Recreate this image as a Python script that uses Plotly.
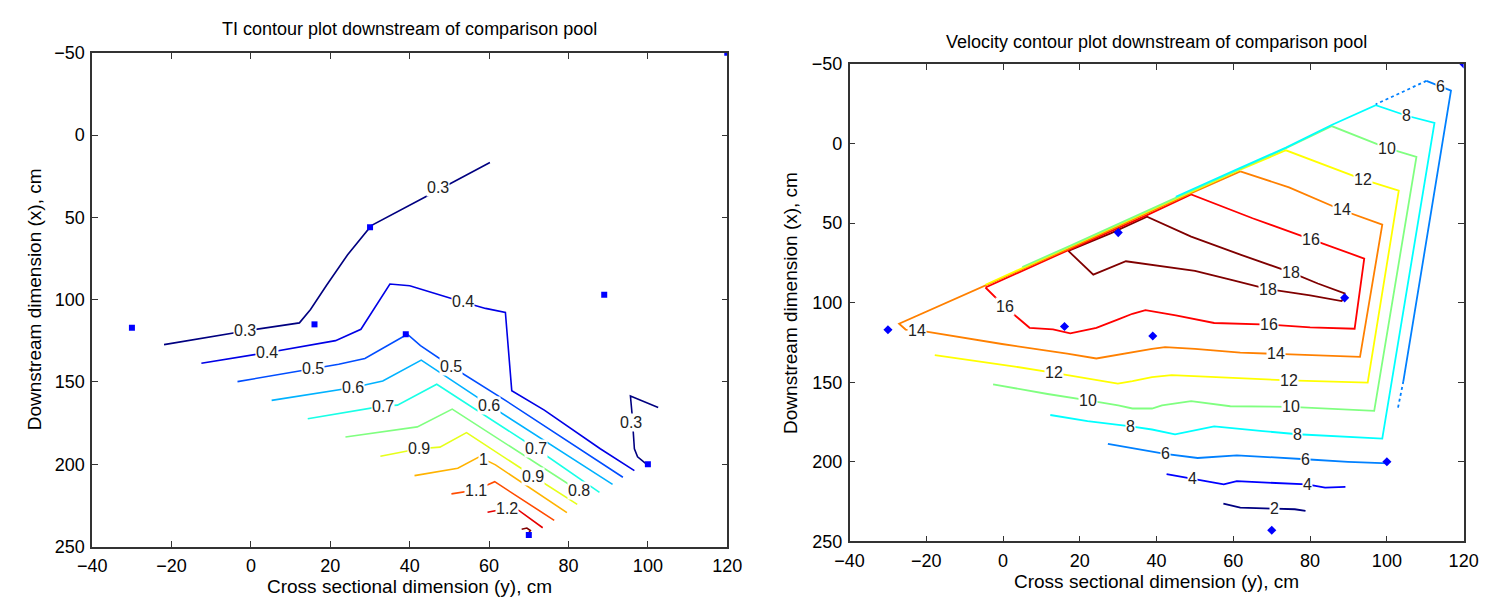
import plotly.graph_objects as go

# ---------------- data ----------------
# measurement points: (cross-sectional y, downstream x)
pts_cross = [-30, 16, 39, 89, 120, 100, 70, 30]
pts_down = [117, 115, 121, 97, -50, 200, 243, 56]

# TI contour lines, points as (cross y, downstream x)
ti_03a = [(-21.9, 127.3), (-1.4, 119), (12.2, 114.1), (15, 106), (19, 91.4), (24.3, 72.9),
          (30.3, 55), (36.3, 47.5), (44.6, 36.7), (60.2, 16.6)]
ti_03b = [(102.6, 165.5), (95.6, 158.6), (96, 169), (96.6, 190.6), (97.4, 195.5), (100.1, 200.8)]
ti_04 = [(-12.5, 138.6), (4, 132.2), (21.3, 124.9), (27.7, 118), (35, 90.5), (40, 91.5),
         (53.4, 101.4), (59.1, 105.3), (64.1, 107.7), (65.7, 155.3), (73.9, 167.1), (88, 190.6), (96.6, 203.9)]
ti_05 = [(-3.4, 149.8), (15.5, 142), (22.1, 139.2), (28.7, 135.7), (39.4, 121), (42.7, 127.9),
         (50.5, 140.6), (64.1, 161.2), (93.7, 207.9)]
ti_06 = [(5.2, 161.2), (25.8, 153.4), (33.2, 149.4), (42.9, 136.7), (60, 164.1), (91.1, 212.2)]
ti_07 = [(14.3, 172.4), (33.2, 164.7), (36.9, 164.1), (46.8, 151.4), (71.9, 190.6), (87.8, 217.1)]
ti_08 = [(23.8, 183.4), (41.9, 177.3), (50.7, 166.5), (82.6, 216.1), (85.3, 219.5)]
ti_09 = [(32.6, 195.1), (42.3, 190.6), (47.6, 189.6), (54.3, 180.8), (71.1, 207.3), (82.2, 224.4)]
ti_10 = [(41.2, 206.9), (52.1, 202.4), (57.5, 195.5), (61.6, 200.4), (79.6, 229.4)]
ti_11 = [(50.5, 218), (56.7, 215.7), (61.4, 210.6), (76.4, 234.1)]
ti_12 = [(59.6, 229.2), (64.5, 226.9), (67.4, 227.9), (73.5, 238.6)]
ti_13 = [(68.2, 239.5), (69.5, 238.8), (70.4, 240.3), (69.9, 242)]
ti_lines = [(0.3, ti_03a), (0.3, ti_03b), (0.4, ti_04), (0.5, ti_05), (0.6, ti_06), (0.7, ti_07),
            (0.8, ti_08), (0.9, ti_09), (1.0, ti_10), (1.1, ti_11), (1.2, ti_12), (1.3, ti_13)]

ti_lab_text = ["0.3", "0.3", "0.3", "0.4", "0.4", "0.5", "0.5", "0.6", "0.6", "0.7", "0.7",
               "0.8", "0.9", "0.9", "1", "1.1", "1.2"]
ti_lab_cross = [-1.4, 47, 95.8, 4, 53.4, 15.5, 50.5, 25.8, 60, 33.2, 71.9, 82.6, 42.3, 71.1, 58.6, 56.7, 64.5]
ti_lab_down = [119, 31.8, 174.9, 132.2, 101.4, 142, 140.6, 153.4, 164.1, 164.7, 190.6,
               216.1, 190.6, 207.3, 197, 215.7, 226.9]

# Velocity contour lines
v18 = [(17, 67.5), (23.5, 82.4), (32, 74), (39, 76.3), (50, 80), (60, 86), (69, 91.5), (80, 95.5),
       (88.2, 99), (89, 96), (89, 94.2), (82, 88), (75, 81), (62, 70), (49, 58.5), (37.5, 46),
       (28, 56.5), (17, 67.5)]
v16 = [(-4.6, 90.5), (0.5, 102.7), (6.9, 115.8), (13, 116.8), (17.5, 119.3), (24.3, 115.8),
       (30, 110.5), (33.7, 107), (37.1, 104.7), (45, 108), (55, 112.8), (69.4, 113.8), (80, 115.5),
       (91.6, 116.4), (94.1, 72.3), (80.1, 60.1), (65, 47), (49, 32), (37.5, 45), (17, 67), (-4.6, 90.5)]
v14 = [(61.8, 17.5), (74.5, 27.6), (88.2, 41.8), (98.8, 51), (93, 134.1), (71.1, 132.1),
       (61.8, 131.4), (50, 129), (42.2, 128), (38.8, 129), (33.7, 131), (24.3, 135.1), (16.7, 132),
       (-0.3, 126), (-20.8, 117.9), (-25.4, 116.9), (-27.1, 113.2), (17, 66.2), (49, 31.2), (61.8, 17.5)]
v12 = [(-17.8, 133), (3.1, 140.2), (13.3, 144.2), (20, 146.8), (29.9, 150.9), (33.7, 149.3),
       (38.8, 146.8), (43.9, 145.6), (59.2, 147.2), (74.5, 148.9), (95, 150.3), (103.1, 29.7),
       (93.7, 22.6), (73.7, 4.3), (61.8, 16.5), (49, 30.5), (17, 65.5), (-4.6, 88.8)]
v10 = [(-2.6, 151.3), (11.6, 157.4), (22.2, 161.4), (30, 164.5), (33.7, 166.5), (38.8, 166.5),
       (41.4, 164.5), (49, 161.9), (59.2, 165.1), (75, 165.5), (96.7, 168), (107.7, 8.4),
       (100.1, 2.9), (85.6, -10.9), (73.7, 3), (61.8, 15.8), (49, 29.8), (17, 64.8), (5, 77.6)]
v8 = [(12.3, 170.6), (22, 174.5), (33.3, 177.7), (38.8, 179.7), (44.8, 182.7), (55, 177.7),
      (67.7, 180.7), (76.7, 182.7), (98.8, 185.4), (112.4, -12.9), (105.2, -17.4), (97.1, -24.1),
      (85.6, -11.6), (73.7, 2.6), (61.8, 15.3), (45, 33.5)]
v6a = [(27.3, 188.8), (33.7, 191.5), (38.8, 193.9), (42.2, 195), (50.7, 197.6), (60.9, 195.9),
       (78.8, 198.4), (89.9, 200), (100.5, 201)]
v6b = [(104.3, 149.3), (116.7, -33.2), (110.3, -39.3)]
v6c = [(110.3, -39.3), (97.1, -24.6)]
v6d = [(104.3, 149.3), (102.8, 167.2)]
v4 = [(42.6, 207.7), (49.4, 210.5), (57.5, 214.2), (60.9, 212.2), (69.4, 213.2), (79.2, 214.2),
      (83.9, 216.2), (89.2, 215.8)]
v2 = [(57.4, 226.3), (61.8, 228.8), (70.6, 229.4), (76, 229.8), (78.8, 230.8)]
v_lines = [(18, v18, "solid"), (16, v16, "solid"), (14, v14, "solid"), (12, v12, "solid"),
           (10, v10, "solid"), (8, v8, "solid"), (6, v6a, "solid"), (6, v6b, "solid"),
           (6, v6c, "dot"), (6, v6d, "dot"), (4, v4, "solid"), (2, v2, "solid")]

v_lab_text = ["6", "8", "10", "12", "14", "16", "18", "18", "16", "14", "12", "10", "8", "6", "4", "2",
              "16", "14", "12", "10", "8", "6", "4"]
v_lab_cross = [114.1, 105.2, 100.1, 93.7, 88.2, 80.1, 75, 69, 69.4, 71.1, 74.5, 75, 76.7, 78.8, 79.2, 70.6,
               0.5, -22.5, 13.3, 22.2, 33.3, 42.2, 49.4]
v_lab_down = [-35.6, -17.4, 2.9, 22.6, 41.8, 60.1, 81, 92, 113.8, 132.1, 148.9, 165.5, 182.7, 198.4, 214.2,
              229.4, 102.7, 117.5, 144.2, 161.4, 177.7, 194.9, 210.5]


# ---------------- styling helpers ----------------
def jet(t):
    def c(v):
        return max(0.0, min(1.0, v))
    r = c(1.5 - abs(4 * t - 3))
    g = c(1.5 - abs(4 * t - 2))
    b = c(1.5 - abs(4 * t - 1))
    return "rgb(%d,%d,%d)" % (round(r * 255), round(g * 255), round(b * 255))


FONT = "Liberation Sans, Arial, sans-serif"

fig = go.Figure()

for lev, pts, in ti_lines:
    fig.add_trace(go.Scatter(x=[p[0] for p in pts], y=[p[1] for p in pts], mode="lines",
                             line=dict(color=jet((lev - 0.3) / 1.0), width=1.6),
                             xaxis="x", yaxis="y", showlegend=False, hoverinfo="skip"))

for lev, pts, dash in v_lines:
    fig.add_trace(go.Scatter(x=[p[0] for p in pts], y=[p[1] for p in pts], mode="lines",
                             line=dict(color=jet((lev - 2) / 16.0), width=1.8, dash=dash),
                             xaxis="x2", yaxis="y2", showlegend=False, hoverinfo="skip"))

fig.add_trace(go.Scatter(x=pts_cross, y=pts_down, mode="markers",
                         marker=dict(color="#0000ff", size=6, symbol="square"),
                         xaxis="x", yaxis="y", showlegend=False))
fig.add_trace(go.Scatter(x=pts_cross, y=pts_down, mode="markers",
                         marker=dict(color="#0000ff", size=7, symbol="diamond"),
                         xaxis="x2", yaxis="y2", showlegend=False))

annotations = []
for t, cx, dx in zip(ti_lab_text, ti_lab_cross, ti_lab_down):
    annotations.append(dict(x=cx, y=dx, xref="x", yref="y", text=t, showarrow=False,
                            font=dict(family=FONT, size=16, color="#222"),
                            bgcolor="white", borderpad=0))
for t, cx, dx in zip(v_lab_text, v_lab_cross, v_lab_down):
    annotations.append(dict(x=cx, y=dx, xref="x2", yref="y2", text=t, showarrow=False,
                            font=dict(family=FONT, size=16, color="#222"),
                            bgcolor="white", borderpad=0))

W, H = 1510, 607
L_AX = (78.8, 726.7, 44.3, 554.8)
R_AX = (851.5, 1478.0, 55.7, 549.5)


def titles(ax, title, title_y, xlab_y, ylab_x):
    x0, x1, y0, y1 = ax
    cx = (x0 + x1) / 2 / W
    cy = 1 - (y0 + y1) / 2 / H
    return [
        dict(x=cx, y=1 - title_y / H, xref="paper", yref="paper", text=title, showarrow=False,
             font=dict(family=FONT, size=18, color="black"), xanchor="center", yanchor="middle"),
        dict(x=cx, y=1 - xlab_y / H, xref="paper", yref="paper", text="Cross sectional dimension (y), cm",
             showarrow=False, font=dict(family=FONT, size=19, color="black"), xanchor="center", yanchor="middle"),
        dict(x=ylab_x / W, y=cy, xref="paper", yref="paper", text="Downstream dimension (x), cm",
             showarrow=False, textangle=-90, font=dict(family=FONT, size=19, color="black"),
             xanchor="center", yanchor="middle"),
    ]


annotations += titles(L_AX, "TI contour plot downstream of comparison pool", 20, 596, 20)
annotations += titles(R_AX, "Velocity contour plot downstream of comparison pool", 33, 591, 791)


def xaxis(ax):
    return dict(domain=[ax[0] / W, ax[1] / W], range=[-40, 120], tickvals=list(range(-40, 121, 20)),
                ticks="inside", ticklen=6, tickcolor="#333", showline=True, linecolor="#333", linewidth=1.5,
                mirror="ticks", showgrid=False, zeroline=False, ticklabelstandoff=2,
                tickfont=dict(family=FONT, size=18, color="black"))


def yaxis(ax, anchor):
    return dict(domain=[1 - ax[3] / H, 1 - ax[2] / H], range=[250, -50], tickvals=list(range(-50, 251, 50)),
                ticks="inside", ticklen=6, tickcolor="#333", showline=True, linecolor="#333", linewidth=1.5,
                mirror="ticks", showgrid=False, zeroline=False, anchor=anchor, ticklabelstandoff=2,
                tickfont=dict(family=FONT, size=18, color="black"))


xa1 = xaxis(L_AX); xa1["anchor"] = "y"
xa2 = xaxis(R_AX); xa2["anchor"] = "y2"

fig.update_layout(
    width=W, height=H, margin=dict(l=0, r=0, t=0, b=0),
    paper_bgcolor="white", plot_bgcolor="white",
    xaxis=xa1, yaxis=yaxis(L_AX, "x"),
    xaxis2=xa2, yaxis2=yaxis(R_AX, "x2"),
    annotations=annotations,
)

fig.write_html("out.html")
